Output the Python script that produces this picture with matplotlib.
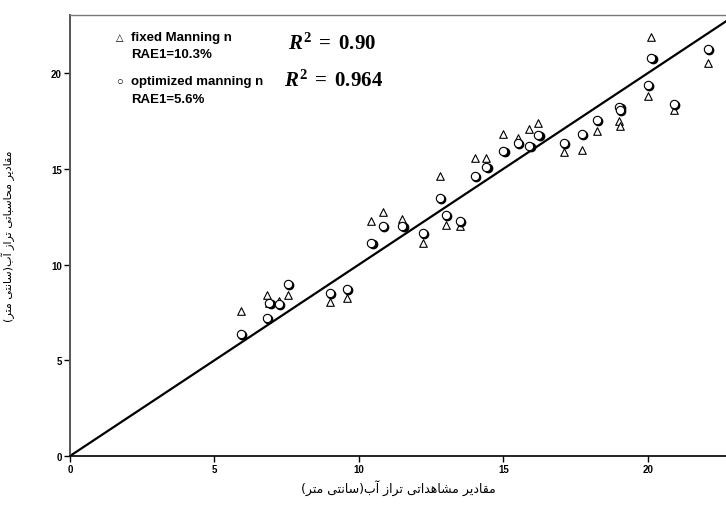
import matplotlib
matplotlib.use('Agg')
from matplotlib import pyplot as plt
from matplotlib.transforms import offset_copy

# observed water level (cm) and the two computed series
observed = [5.92, 6.82, 6.89, 7.23, 7.54, 9.00, 9.58, 10.42, 10.83, 11.50,
            12.20, 12.80, 13.01, 13.48, 14.01, 14.41, 15.00, 15.50, 15.90, 16.21,
            17.09, 17.72, 18.22, 19.01, 19.03, 20.00, 20.12, 20.90, 22.06]
fixed_n = [7.57, 8.41, 8.00, 8.10, 8.41, 8.04, 8.25, 12.27, 12.74, 12.38,
           11.12, 14.62, 12.06, 12.01, 15.56, 15.56, 16.81, 16.60, 17.08, 17.39,
           15.87, 15.98, 16.97, 17.49, 17.23, 18.80, 21.88, 18.07, 20.52]
optimized_n = [6.37, 7.21, 7.99, 7.94, 8.98, 8.51, 8.72, 11.12, 12.01, 12.01,
               11.64, 13.47, 12.58, 12.27, 14.62, 15.09, 15.93, 16.34, 16.19, 16.76,
               16.34, 16.81, 17.55, 18.22, 18.07, 19.37, 20.78, 18.38, 21.25]
one_to_one = [0, 23]

ticks = [0, 5, 10, 15, 20]
xlabel_fa = 'مقادیر مشاهداتی تراز آب(سانتی متر)'
ylabel_fa = 'مقادیر محاسباتی تراز آب(سانتی متر)'

# matplotlib does no arabic shaping, so pick presentation forms by hand
forms = {
    'ا': ('\uFE8D', '\uFE8E', None, None),
    'آ': ('\uFE81', '\uFE82', None, None),
    'ب': ('\uFE8F', '\uFE90', '\uFE91', '\uFE92'),
    'ت': ('\uFE95', '\uFE96', '\uFE97', '\uFE98'),
    'ح': ('\uFEA1', '\uFEA2', '\uFEA3', '\uFEA4'),
    'د': ('\uFEA9', '\uFEAA', None, None),
    'ر': ('\uFEAD', '\uFEAE', None, None),
    'ز': ('\uFEAF', '\uFEB0', None, None),
    'س': ('\uFEB1', '\uFEB2', '\uFEB3', '\uFEB4'),
    'ش': ('\uFEB5', '\uFEB6', '\uFEB7', '\uFEB8'),
    'ق': ('\uFED5', '\uFED6', '\uFED7', '\uFED8'),
    'م': ('\uFEE1', '\uFEE2', '\uFEE3', '\uFEE4'),
    'ن': ('\uFEE5', '\uFEE6', '\uFEE7', '\uFEE8'),
    'ه': ('\uFEE9', '\uFEEA', '\uFEEB', '\uFEEC'),
    'ی': ('\uFEEF', '\uFEF0', '\uFEF3', '\uFEF4'),
}


def persian(s):
    out = []
    for i, ch in enumerate(s):
        if ch not in forms:
            out.append(ch)
            continue
        prev = s[i - 1] if i > 0 else ''
        nxt = s[i + 1] if i < len(s) - 1 else ''
        join_prev = prev in forms and forms[prev][2] is not None
        join_next = nxt in forms and forms[ch][2] is not None
        iso, fin, ini, med = forms[ch]
        if join_prev and join_next:
            out.append(med)
        elif join_prev:
            out.append(fin)
        elif join_next:
            out.append(ini)
        else:
            out.append(iso)
    vis = ''.join(out)[::-1]
    return vis.replace('(', '\0').replace(')', '(').replace('\0', ')')


plt.rcParams['font.family'] = ['Liberation Sans', 'DejaVu Sans']
plt.rcParams['mathtext.fontset'] = 'custom'
plt.rcParams['mathtext.it'] = 'Liberation Serif:bold:italic'
plt.rcParams['mathtext.rm'] = 'Liberation Serif:bold'

fig = plt.figure(figsize=(7.26, 5.06), dpi=100)
ax = fig.add_axes([70 / 726, 49 / 506, 656 / 726, 441 / 506])

ax.plot(one_to_one, one_to_one, c='black', lw=1.6, zorder=2)

ax.scatter(observed, fixed_n, marker='^', s=30, facecolors='white',
           edgecolors='black', linewidths=0.8, zorder=3)
shadow = offset_copy(ax.transData, fig=fig, x=1.0, y=-1.0, units='points')
ax.scatter(observed, optimized_n, marker='o', s=36, c='black',
           transform=shadow, zorder=4)
ax.scatter(observed, optimized_n, marker='o', s=36, facecolors='white',
           edgecolors='black', linewidths=0.8, zorder=5)

ax.set_xlim(0, 22.7)
ax.set_ylim(0, 23.03)
ax.set_xticks(ticks)
ax.set_yticks(ticks)
ax.tick_params(direction='out', length=4, width=1, labelsize=7, pad=2)
for lab in ax.get_xticklabels() + ax.get_yticklabels():
    lab.set_fontweight('bold')

ax.spines['right'].set_visible(False)
ax.spines['top'].set_color('#777777')
ax.spines['top'].set_linewidth(1)
ax.spines['left'].set_color('#555555')
ax.spines['left'].set_linewidth(1.4)
ax.spines['bottom'].set_linewidth(1.2)

ax.set_xlabel(persian(xlabel_fa), fontsize=9, family='DejaVu Sans')
ax.set_ylabel(persian(ylabel_fa), fontsize=8, family='DejaVu Sans')
ax.xaxis.set_label_coords(0.5, -0.052)
ax.yaxis.set_label_coords(-0.084, 0.5)

# legend block, written as text like the original
leg_font = {'fontsize': 9.5, 'fontweight': 'bold', 'va': 'center',
            'transform': ax.transAxes}
ax.text(0.076, 0.950, '\u25B3', fontsize=7, ha='center', va='center',
        transform=ax.transAxes)
ax.text(0.093, 0.950, 'fixed Manning n', **leg_font)
ax.text(0.093, 0.912, 'RAE1=10.3%', **leg_font)
ax.text(0.076, 0.850, '\u25CB', fontsize=8, ha='center', va='center',
        transform=ax.transAxes)
ax.text(0.093, 0.850, 'optimized manning n', **leg_font)
ax.text(0.093, 0.810, 'RAE1=5.6%', **leg_font)

ax.text(0.332, 0.939, r'$R^{2}\;=\;0.90$', transform=ax.transAxes,
        fontsize=15, va='center')
ax.text(0.326, 0.855, r'$R^{2}\;=\;0.964$', transform=ax.transAxes,
        fontsize=15, va='center')

fig.savefig('out.png', dpi=100)
